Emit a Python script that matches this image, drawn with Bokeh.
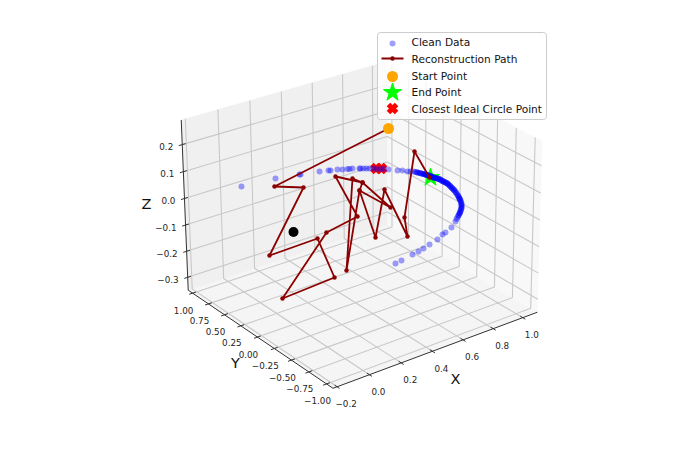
import numpy as np
from bokeh.plotting import figure
from bokeh.models import Range1d
from bokeh.core.properties import value
from bokeh.embed import file_html
from bokeh.resources import INLINE

# ---- data (projected onto the picture plane) ----
x_ticks = [-0.2, 0.0, 0.2, 0.4, 0.6, 0.8, 1.0]
y_ticks = [1.0, 0.75, 0.5, 0.25, 0.0, -0.25, -0.5, -0.75, -1.0]
z_ticks = [0.2, 0.1, 0.0, -0.1, -0.2, -0.3]
x_labels = ["\u22120.2", "0.0", "0.2", "0.4", "0.6", "0.8", "1.0"]
y_labels = ["1.00", "0.75", "0.50", "0.25", "0.00", "\u22120.25", "\u22120.50", "\u22120.75", "\u22121.00"]
z_labels = ["0.2", "0.1", "0.0", "\u22120.1", "\u22120.2", "\u22120.3"]
x_lim = (-0.225, 1.10)
y_lim = (-1.09, 1.07)
z_lim = (-0.35, 0.29)

clean_u = [241, 275, 299, 300, 319, 328, 330, 337, 342, 347, 349, 352, 359, 360, 363, 366, 369, 373, 376, 380,
           383, 388, 397, 402, 407, 410, 413, 415, 416, 417, 418, 419, 420, 421, 422, 423, 424, 425, 426, 427, 428, 429, 430, 431, 432, 433, 434, 435, 436, 437,
           438, 439, 440, 441, 442, 443, 444, 445, 446, 447, 448, 449, 450, 451, 452, 453, 454, 455, 456, 457, 458, 458.5, 459, 459.5, 460, 460.5, 461, 461, 461,
           461, 460.5, 460, 459.5, 459, 458, 457, 456, 455, 451, 445, 442, 437, 429, 423, 418, 412, 401, 395,
           423.5, 425.5, 427.5, 429.5, 431.5, 433.5, 435.5, 437.5, 439.5, 441.5, 443.5, 445.5, 447.5, 449.5, 451.5, 453.5, 455.5, 457.5, 459, 460, 461, 461, 460, 459, 458]
clean_v = [186, 178, 174, 174, 171, 170, 170, 169, 169, 168.5, 168.5, 168, 168, 168, 168, 168, 168, 168, 168.5, 168.5,
           168.5, 169, 170, 170, 171, 171, 171, 171.5, 171.7, 172, 172.2, 172.5, 172.8, 173, 173.3, 173.5, 173.8, 174, 174.3, 174.5, 175, 175.3, 175.5, 176, 176.5, 177, 177.3, 177.5, 177.8, 178,
           178.5, 178.8, 179, 180, 180.5, 181, 181.5, 182, 182.5, 183, 184, 185, 186, 187, 188, 189, 190, 191.5, 193, 194.5, 196, 197, 198, 199, 200, 202, 203, 205, 207,
           208, 209, 211, 212, 213, 215, 217, 218.5, 221, 227, 232, 234, 239, 244, 248, 251, 254, 260, 263,
           173.6, 174.2, 174.8, 175.4, 176.2, 177.2, 177.6, 178.2, 179, 180.2, 181.2, 182.2, 183.5, 185.5, 187.5, 189.5, 192, 195, 198, 200.5, 204, 206, 210, 213, 215]

path_u = [388, 274, 303, 269, 317, 334, 282, 326, 357, 335, 362, 352, 346, 359, 390, 362, 359, 375, 384, 407, 404, 414, 429]
path_v = [128, 186, 187, 255, 238, 277, 298, 232, 216, 176, 182, 178, 270, 190, 207, 182, 190, 237, 189, 236, 217, 151, 177]
start_u, start_v = [388], [128]
end_u, end_v = [430], [177]
closest_u, closest_v = [375.5, 381], [168, 168]
black_u, black_v = [293], [231.5]

legend_names = ["Clean Data", "Reconstruction Path", "Start Point", "End Point", "Closest Ideal Circle Point"]

# ---- camera fitted on the corners of the box ----
corners_3d = np.array([[0, 0, 0], [1, 0, 0], [0, 1, 0], [1, 1, 0], [0, 1, 1], [1, 1, 1], [1, 0, 1]], float)
corners_px = np.array([[333, 388], [536, 312], [187, 289], [388, 224], [181, 120], [386, 61], [542, 140]], float)

rows = []
for (a, b, c), (u, v) in zip(corners_3d, corners_px / 500):
    rows.append([a, b, c, 1, 0, 0, 0, 0, -u * a, -u * b, -u * c, -u])
    rows.append([0, 0, 0, 0, a, b, c, 1, -v * a, -v * b, -v * c, -v])
P = np.linalg.svd(np.array(rows))[2][-1].reshape(3, 4)


def project(x, y, z):
    h = P @ np.array([(x - x_lim[0]) / (x_lim[1] - x_lim[0]),
                      (y - y_lim[0]) / (y_lim[1] - y_lim[0]),
                      (z - z_lim[0]) / (z_lim[1] - z_lim[0]), 1.0])
    return 500 * h[0] / h[2], 500 * h[1] / h[2]


def poly(points):
    pts = [project(*q) for q in points]
    return [q[0] for q in pts], [q[1] for q in pts]


xl, xh, yl, yh, zl, zh = *x_lim, *y_lim, *z_lim

p = figure(width=673, height=435, output_backend="svg", toolbar_location=None,
           x_range=Range1d(0, 673), y_range=Range1d(435, 0),
           x_axis_type=None, y_axis_type=None, min_border=0)
p.outline_line_color = None
p.grid.visible = False
p.background_fill_color = "white"

# panes
for pts, col in [([(xl, yl, zl), (xh, yl, zl), (xh, yh, zl), (xl, yh, zl)], "#f5f5f5"),
                 ([(xl, yh, zl), (xh, yh, zl), (xh, yh, zh), (xl, yh, zh)], "#f0f0f0"),
                 ([(xh, yl, zl), (xh, yh, zl), (xh, yh, zh), (xh, yl, zh)], "#f8f8f8")]:
    u, v = poly(pts)
    p.patch(u, v, fill_color=col, line_color=col, line_width=0.5)

# grid
gx, gy = [], []
for t in x_ticks:
    u, v = poly([(t, yl, zl), (t, yh, zl), (t, yh, zh)])
    gx.append(u); gy.append(v)
for t in y_ticks:
    u, v = poly([(xl, t, zl), (xh, t, zl), (xh, t, zh)])
    gx.append(u); gy.append(v)
for t in z_ticks:
    u, v = poly([(xl, yh, t), (xh, yh, t), (xh, yl, t)])
    gx.append(u); gy.append(v)
p.multi_line(gx, gy, line_color="#c8c8c8", line_width=1.1)

# axis lines and ticks
ax_x, ax_y = [], []
for pts in ([(xl, yl, zl), (xh, yl, zl)], [(xl, yl, zl), (xl, yh, zl)], [(xl, yh, zl), (xl, yh, zh)]):
    u, v = poly(pts)
    ax_x.append(u); ax_y.append(v)
dy, dx = (yh - yl) * 0.016, (xh - xl) * 0.016
for t in x_ticks:
    u, v = poly([(t, yl - dy, zl), (t, yl + dy, zl)])
    ax_x.append(u); ax_y.append(v)
for t in y_ticks:
    u, v = poly([(xl - dx, t, zl), (xl + dx, t, zl)])
    ax_x.append(u); ax_y.append(v)
for t in z_ticks:
    u, v = poly([(xl - dx, yh, t), (xl + dx, yh, t)])
    ax_x.append(u); ax_y.append(v)
p.multi_line(ax_x, ax_y, line_color="#333333", line_width=1)

# tick labels
font = value("DejaVu Sans")
tx, ty, tt = [], [], []
for t, s in zip(x_ticks, x_labels):
    u, v = project(t, yl, zl)
    tx.append(u + 9); ty.append(v + 17); tt.append(s)
for t, s in zip(y_ticks, y_labels):
    u, v = project(xl, t, zl)
    tx.append(u - 9); ty.append(v + 17); tt.append(s)
p.text(tx, ty, text=tt, text_font=font, text_font_size="8.8px", text_color="#262626",
       text_align="center", text_baseline="middle")
zx, zy, zt = [], [], []
for t, s in zip(z_ticks, z_labels):
    u, v = project(xl, yh, t)
    zx.append(u - 9); zy.append(v + 2); zt.append(s)
p.text(zx, zy, text=zt, text_font=font, text_font_size="8.8px", text_color="#262626",
       text_align="right", text_baseline="middle")
p.text([455, 235, 146], [378, 362, 203], text=["X", "Y", "Z"], text_font=font, text_font_size="14.5px",
       text_color="#111111", text_align="center", text_baseline="middle")

# marks
p.scatter(closest_u, closest_v, marker="x", size=11.5, line_color="#ff0000", line_width=5)
p.scatter(end_u, end_v, marker="star", size=19, fill_color="#00ff00", line_color="#00ff00")
p.scatter(clean_u, clean_v, marker="circle", size=6, fill_color="#0000ff", fill_alpha=0.38, line_color=None)
p.line(path_u, path_v, line_color="#8b0000", line_width=1.8)
p.scatter(path_u, path_v, marker="circle", size=4.5, fill_color="#8b0000", line_color=None)
p.scatter(start_u, start_v, marker="circle", size=11, fill_color="#ffa500", line_color=None)
p.scatter(black_u, black_v, marker="circle", size=10, fill_color="#000000", line_color=None)

# legend
p.quad(left=[377], right=[546], top=[32], bottom=[119], fill_color="white", fill_alpha=0.8,
       line_color="#cccccc", line_width=1, border_radius=3)
p.text([411] * 5, [41.5, 58, 75, 91.5, 108.5], text=legend_names, text_font=font, text_font_size="10.6px",
       text_color="#111111", text_align="left", text_baseline="middle")
p.scatter([392], [43], marker="circle", size=6, fill_color="#0000ff", fill_alpha=0.38, line_color=None)
p.line([381, 403], [58, 58], line_color="#8b0000", line_width=1.8)
p.scatter([392], [58], marker="circle", size=4.5, fill_color="#8b0000", line_color=None)
p.scatter([392], [76], marker="circle", size=11, fill_color="#ffa500", line_color=None)
p.scatter([392], [92], marker="star", size=19, fill_color="#00ff00", line_color="#00ff00")
p.scatter([392], [108], marker="x", size=11.5, line_color="#ff0000", line_width=5)

open("out.html", "w").write(file_html(p, INLINE))
